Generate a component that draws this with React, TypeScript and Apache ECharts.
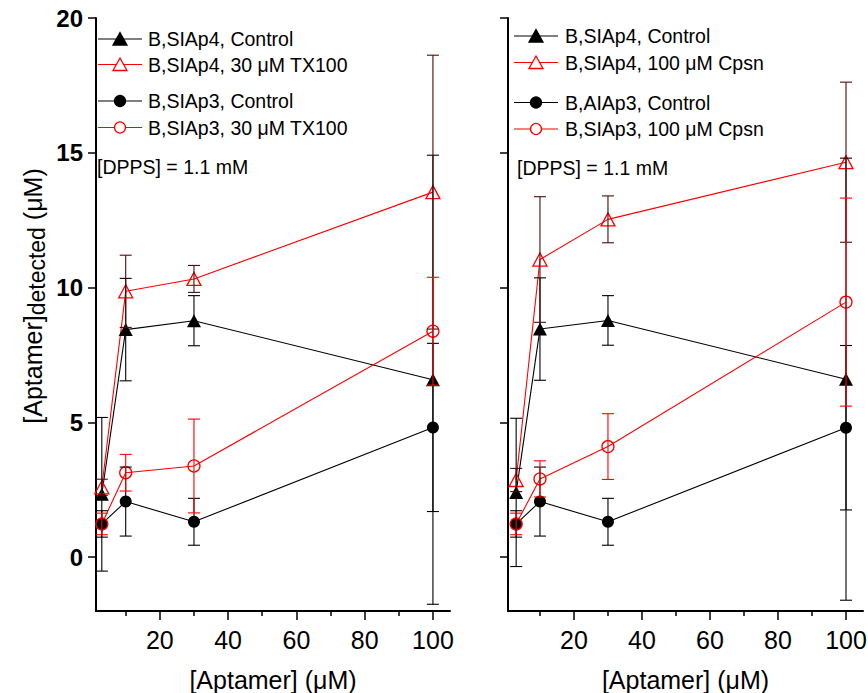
import React, { useEffect, useRef } from "react";
import * as echarts from "echarts";

// ---------- data ----------
const concentrations = [3, 10, 30, 100];

// left panel (TX100)
const L_SIAp4_Control = [2.33, 8.44, 8.77, 6.58];
const L_SIAp4_Control_err = [2.85, 1.9, 0.93, 8.33];
const L_SIAp4_TX100 = [2.59, 9.86, 10.32, 13.54];
const L_SIAp4_TX100_err = [0.3, 1.34, 0.5, 5.08];
const L_SIAp3_Control = [1.23, 2.06, 1.31, 4.81];
const L_SIAp3_Control_err = [0.49, 1.28, 0.87, 3.12];
const L_SIAp3_TX100 = [1.23, 3.13, 3.38, 8.38];
const L_SIAp3_TX100_err = [0.4, 0.68, 1.74, 2.0];

// right panel (Cpsn)
const R_SIAp4_Control = [2.4, 8.46, 8.78, 6.6];
const R_SIAp4_Control_err = [2.75, 1.9, 0.92, 8.2];
const R_SIAp4_Cpsn = [2.86, 11.04, 12.53, 14.65];
const R_SIAp4_Cpsn_err = [0.43, 2.33, 0.87, 2.97];
const R_AIAp3_Control = [1.23, 2.06, 1.31, 4.8];
const R_AIAp3_Control_err = [0.49, 1.28, 0.87, 3.05];
const R_SIAp3_Cpsn = [1.23, 2.9, 4.1, 9.46];
const R_SIAp3_Cpsn_err = [0.4, 0.67, 1.22, 3.86];

const xTickValues = [20, 40, 60, 80, 100];
const xMinorTickValues = [10, 30, 50, 70, 90];
const yTickValues = [0, 5, 10, 15, 20];

const leftLegendNames = [
  "B,SIAp4, Control",
  "B,SIAp4, 30 μM TX100",
  "B,SIAp3, Control",
  "B,SIAp3, 30 μM TX100",
];
const rightLegendNames = [
  "B,SIAp4, Control",
  "B,SIAp4, 100 μM Cpsn",
  "B,AIAp3, Control",
  "B,SIAp3, 100 μM Cpsn",
];
const noteText = "[DPPS] = 1.1 mM";
const xTitle = "[Aptamer] (μM)";

// ---------- styling ----------
const FONT = "'Liberation Sans', Arial, sans-serif";
const RED = "#ff0000";
const BLACK = "#000000";
const DARK = "#4a0c0c";

type Kind = "triFilled" | "triOpen" | "circFilled" | "circOpen";

const styleFor = (kind: Kind) => {
  const isRed = kind === "triOpen" || kind === "circOpen";
  const isTri = kind === "triFilled" || kind === "triOpen";
  return {
    color: isRed ? RED : BLACK,
    fill: isRed ? "rgba(0,0,0,0)" : BLACK,
    symbol: isTri ? "triangle" : "circle",
    size: isTri ? [14, 13] : [12, 12],
    errColor: kind === "triOpen" ? DARK : isRed ? RED : BLACK,
  };
};

function makeErrRender(color: string) {
  return (params: any, api: any) => {
    const x = api.value(0);
    const lo = api.value(1);
    const hi = api.value(2);
    const pLo = api.coord([x, lo]);
    const pHi = api.coord([x, hi]);
    const st = { stroke: color, lineWidth: 1.1 };
    const c = 6;
    return {
      type: "group",
      children: [
        { type: "line", shape: { x1: pLo[0], y1: pLo[1], x2: pHi[0], y2: pHi[1] }, style: st },
        { type: "line", shape: { x1: pLo[0] - c, y1: pLo[1], x2: pLo[0] + c, y2: pLo[1] }, style: st },
        { type: "line", shape: { x1: pHi[0] - c, y1: pHi[1], x2: pHi[0] + c, y2: pHi[1] }, style: st },
      ],
    };
  };
}

function buildSeries(panel: number, name: string, vals: number[], errs: number[], kind: Kind) {
  const s = styleFor(kind);
  const line = {
    type: "line",
    name,
    xAxisIndex: panel * 2,
    yAxisIndex: panel,
    data: concentrations.map((x, i) => [x, vals[i]]),
    symbol: s.symbol,
    symbolSize: s.size,
    showAllSymbol: true,
    lineStyle: { color: s.color, width: 1.1 },
    itemStyle: { color: s.fill, borderColor: s.color, borderWidth: kind === "triOpen" || kind === "circOpen" ? 1.3 : 0 },
    z: 3,
    clip: false,
  };
  const err = {
    type: "custom",
    name: name + " err",
    xAxisIndex: panel * 2,
    yAxisIndex: panel,
    data: concentrations.map((x, i) => [x, vals[i] - errs[i], vals[i] + errs[i]]),
    encode: { x: 0, y: [1, 2] },
    renderItem: makeErrRender(s.errColor),
    z: 4,
    clip: false,
  };
  return [line, err];
}

function legendGraphics(x0: number, x1: number, textX: number, rows: number[], names: string[]) {
  const kinds: Kind[] = ["triFilled", "triOpen", "circFilled", "circOpen"];
  const out: any[] = [];
  const cx = (x0 + x1) / 2;
  kinds.forEach((k, i) => {
    const s = styleFor(k);
    const y = rows[i];
    out.push({
      type: "line",
      shape: { x1: x0, y1: y, x2: x1, y2: y },
      style: { stroke: s.color, lineWidth: 1.1 },
    });
    if (s.symbol === "triangle") {
      out.push({
        type: "polygon",
        shape: { points: [[cx - 7, y + 6], [cx + 7, y + 6], [cx, y - 6.5]] },
        style: { fill: s.fill === BLACK ? BLACK : "#fff", stroke: s.color, lineWidth: 1.3 },
      });
    } else {
      out.push({
        type: "circle",
        shape: { cx, cy: y, r: 5.5 },
        style: { fill: s.fill === BLACK ? BLACK : "#fff", stroke: s.color, lineWidth: 1.3 },
      });
    }
    out.push({
      type: "text",
      x: textX,
      y,
      style: { text: names[i], font: `19.5px ${FONT}`, fill: BLACK, align: "left", verticalAlign: "middle" },
    });
  });
  return out;
}

const grids = [
  { left: 96, top: 18, width: 354, height: 593, xmin: 1.3, xmax: 105 },
  { left: 508, top: 18, width: 355, height: 593, xmin: 0.6, xmax: 105 },
];

export default function App() {
  const ref = useRef<HTMLDivElement>(null);
  useEffect(() => {
    if (!ref.current) return;
    const chart = echarts.init(ref.current, null, { renderer: "svg" });

    const xAxes: any[] = [];
    const yAxes: any[] = [];
    grids.forEach((g, gi) => {
      xAxes.push({
        gridIndex: gi,
        type: "value",
        position: "bottom",
        min: g.xmin,
        max: g.xmax,
        axisLine: { show: true, onZero: false, lineStyle: { color: BLACK, width: 2 } },
        axisTick: { show: true, length: 9, lineStyle: { color: BLACK, width: 1.5 }, customValues: xTickValues },
        axisLabel: { customValues: xTickValues, margin: 16, fontSize: 25, fontFamily: FONT, color: BLACK },
        splitLine: { show: false },
        name: xTitle,
        nameLocation: "middle",
        nameGap: 56,
        nameTextStyle: { fontSize: 25, fontFamily: FONT, color: BLACK },
      });
      xAxes.push({
        gridIndex: gi,
        type: "value",
        position: "bottom",
        min: g.xmin,
        max: g.xmax,
        axisLine: { show: false, onZero: false },
        axisTick: { show: true, length: 5, lineStyle: { color: BLACK, width: 1.5 }, customValues: xMinorTickValues },
        axisLabel: { show: false },
        splitLine: { show: false },
      });
      yAxes.push({
        gridIndex: gi,
        type: "value",
        min: -2,
        max: 20,
        axisLine: { show: true, onZero: false, lineStyle: { color: BLACK, width: 2 } },
        axisTick: { show: true, length: 8, lineStyle: { color: BLACK, width: 1.5 }, customValues: yTickValues },
        axisLabel: {
          show: gi === 0,
          customValues: yTickValues,
          margin: 13,
          fontSize: 24,
          fontWeight: "bold",
          fontFamily: FONT,
          color: BLACK,
        },
        splitLine: { show: false },
      });
    });

    const series = [
      ...buildSeries(0, leftLegendNames[0], L_SIAp4_Control, L_SIAp4_Control_err, "triFilled"),
      ...buildSeries(0, leftLegendNames[1], L_SIAp4_TX100, L_SIAp4_TX100_err, "triOpen"),
      ...buildSeries(0, leftLegendNames[2], L_SIAp3_Control, L_SIAp3_Control_err, "circFilled"),
      ...buildSeries(0, leftLegendNames[3], L_SIAp3_TX100, L_SIAp3_TX100_err, "circOpen"),
      ...buildSeries(1, "R " + rightLegendNames[0], R_SIAp4_Control, R_SIAp4_Control_err, "triFilled"),
      ...buildSeries(1, "R " + rightLegendNames[1], R_SIAp4_Cpsn, R_SIAp4_Cpsn_err, "triOpen"),
      ...buildSeries(1, "R " + rightLegendNames[2], R_AIAp3_Control, R_AIAp3_Control_err, "circFilled"),
      ...buildSeries(1, "R " + rightLegendNames[3], R_SIAp3_Cpsn, R_SIAp3_Cpsn_err, "circOpen"),
    ];

    const graphic: any[] = [
      ...legendGraphics(98, 142, 148, [39, 64.5, 101, 127.5], leftLegendNames),
      ...legendGraphics(514, 558, 565, [36, 62.5, 102.5, 129], rightLegendNames),
      {
        type: "text",
        x: 97,
        y: 167,
        style: { text: noteText, font: `19.5px ${FONT}`, fill: BLACK, align: "left", verticalAlign: "middle" },
      },
      {
        type: "text",
        x: 517,
        y: 168,
        style: { text: noteText, font: `19.5px ${FONT}`, fill: BLACK, align: "left", verticalAlign: "middle" },
      },
      {
        type: "text",
        x: 34,
        y: 296,
        rotation: Math.PI / 2,
        style: {
          text: "{a|[Aptamer]}{b|detected}{a| (μM)}",
          align: "center",
          verticalAlign: "middle",
          rich: {
            a: { fontSize: 25, fontFamily: FONT, fill: BLACK, lineHeight: 28, verticalAlign: "top" },
            b: { fontSize: 23, fontFamily: FONT, fill: BLACK, lineHeight: 24, padding: [10, 0, 0, 0], verticalAlign: "bottom" },
          },
        },
      },
    ];

    chart.setOption({
      animation: false,
      backgroundColor: "#ffffff",
      grid: grids.map((g) => ({ left: g.left, top: g.top, width: g.width, height: g.height, outerBoundsMode: "none" })),
      xAxis: xAxes,
      yAxis: yAxes,
      series,
      graphic,
    });
    return () => chart.dispose();
  }, []);

  return (
    <div
      ref={ref}
      style={{ position: "fixed", left: 0, top: 0, width: 868, height: 693, background: "#fff" }}
    />
  );
}
